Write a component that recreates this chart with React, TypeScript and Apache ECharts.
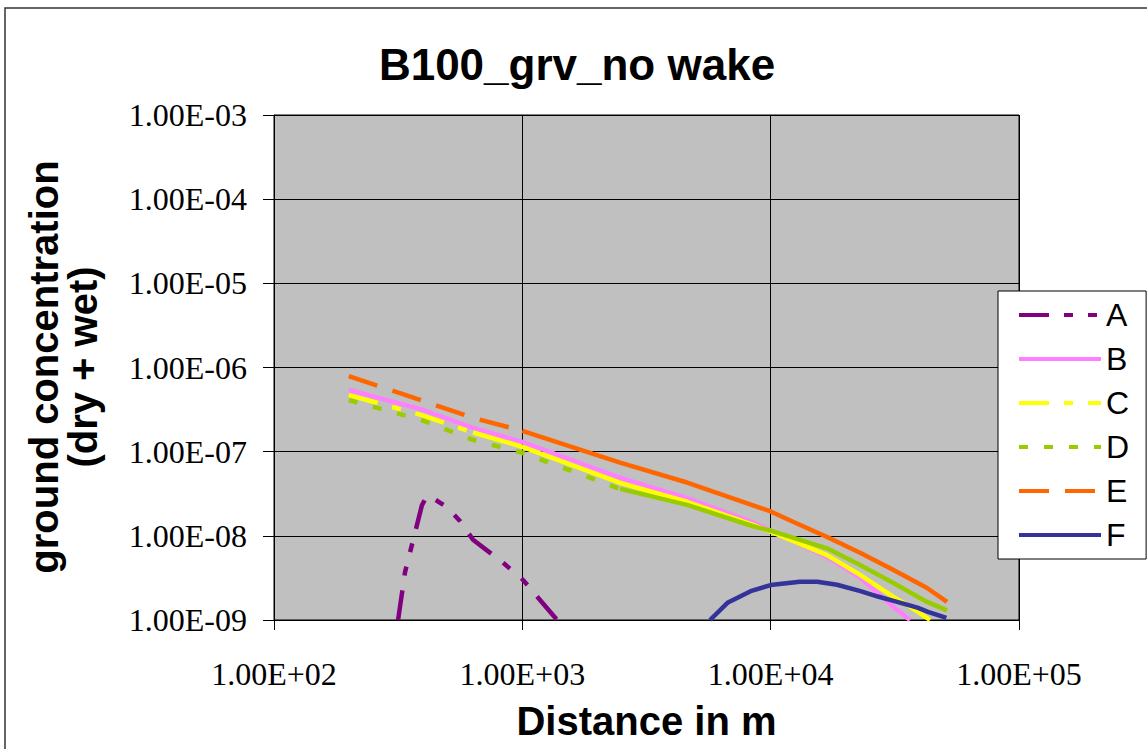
import React, { useEffect, useRef } from 'react';
import * as echarts from 'echarts';

// ---- data (distance in m, ground concentration) ----
const xA = [316, 337, 370, 394, 413, 445, 497, 561, 633, 836, 1006, 1146, 1380];
const yA = [1.0e-9, 3.7e-9, 1.1e-8, 2.3e-8, 3.0e-8, 2.7e-8, 2.2e-8, 1.5e-8, 9.0e-9, 4.8e-9, 3.0e-9, 1.9e-9, 1.0e-9];

const xB = [200, 390, 633, 1000, 2474, 4607, 8494, 10000, 16870, 22910, 31100, 36400];
const yB = [5.4e-7, 3.2e-7, 1.92e-7, 1.31e-7, 4.9e-8, 2.8e-8, 1.45e-8, 1.15e-8, 5.6e-9, 3.2e-9, 1.44e-9, 1.0e-9];

const xC = [200, 390, 633, 1000, 2474, 4607, 8494, 10000, 16870, 22910, 31100, 36400, 43800];
const yC = [4.7e-7, 2.74e-7, 1.69e-7, 1.14e-7, 4.26e-8, 2.54e-8, 1.35e-8, 1.12e-8, 5.9e-9, 3.44e-9, 1.89e-9, 1.44e-9, 1.0e-9];

const xD = [200, 390, 633, 1000, 2474, 4607, 8494, 10000, 16870, 22910, 31100, 42650, 51300];
const yD = [4.1e-7, 2.39e-7, 1.38e-7, 9.7e-8, 3.61e-8, 2.33e-8, 1.3e-8, 1.15e-8, 7.1e-9, 4.5e-9, 2.77e-9, 1.64e-9, 1.3e-9];

const xE = [200, 390, 633, 1000, 2474, 4607, 8494, 10000, 12300, 16870, 22910, 31100, 42650, 51300];
const yE = [7.9e-7, 4.1e-7, 2.52e-7, 1.77e-7, 7.4e-8, 4.3e-8, 2.3e-8, 1.95e-8, 1.47e-8, 9.7e-9, 6.3e-9, 3.95e-9, 2.4e-9, 1.64e-9];

const xF = [5700, 6700, 8300, 10000, 13100, 15400, 18500, 23000, 27000, 31000, 39000, 43000, 51000];
const yF = [1.0e-9, 1.6e-9, 2.2e-9, 2.6e-9, 2.84e-9, 2.84e-9, 2.62e-9, 2.2e-9, 1.9e-9, 1.7e-9, 1.4e-9, 1.25e-9, 1.06e-9];

const seriesNames = ['A', 'B', 'C', 'D', 'E', 'F'];
const title = 'B100_grv_no wake';
const xName = 'Distance in m';
const yName1 = 'ground concentration';
const yName2 = '(dry + wet)';

const pairs = (xs: number[], ys: number[]) => xs.map((x, i) => [x, ys[i]]);

function fmt(v: number) {
  const e = Math.round(Math.log10(v));
  const a = Math.abs(e);
  return '1.00E' + (e < 0 ? '-' : '+') + (a < 10 ? '0' + a : String(a));
}

const SANS = '"Liberation Sans", Arial, sans-serif';
const SERIF = '"Liberation Serif", "Times New Roman", serif';

function line(name: string, data: number[][], color: string, dash: any, z: number) {
  return {
    type: 'line',
    name,
    data,
    symbol: 'none',
    showSymbol: false,
    clip: true,
    z,
    lineStyle: { color, width: 4.5, type: dash, cap: 'butt', join: 'round' },
    itemStyle: { color },
    emphasis: { disabled: true },
  };
}

export default function App() {
  const ref = useRef<HTMLDivElement>(null);
  useEffect(() => {
    document.body.style.margin = '0';
    const chart = echarts.init(ref.current!, null, { renderer: 'svg' });
    const dA = pairs(xA, yA);
    const dB = pairs(xB, yB);
    const dC = pairs(xC, yC);
    const dD = pairs(xD, yD);
    const dE = pairs(xE, yE);
    const dF = pairs(xF, yF);
    const dashA = [30, 15, 9, 15, 9, 15];
    const dashC = [30, 15, 9, 15];
    const dashD = [9, 16];
    const dashE = [30, 16];
    const option: any = {
      animation: false,
      backgroundColor: '#ffffff',
      grid: {
        left: 274, top: 115, width: 745, height: 505,
        show: true, backgroundColor: '#C0C0C0', borderColor: '#000', borderWidth: 1,
      },
      xAxis: {
        type: 'log', logBase: 10, min: 100, max: 100000,
        axisLine: { show: true, lineStyle: { color: '#000', width: 1 } },
        axisTick: { show: true, length: 10, lineStyle: { color: '#000', width: 1 } },
        minorTick: { show: false },
        axisLabel: { formatter: fmt, fontSize: 32, fontFamily: SERIF, color: '#000', margin: 38 },
        splitLine: { show: true, lineStyle: { color: '#000', width: 1 } },
        name: xName, nameLocation: 'middle', nameGap: 81,
        nameTextStyle: { fontSize: 40, fontWeight: 'bold', fontFamily: SANS, color: '#000' },
      },
      yAxis: {
        type: 'log', logBase: 10, min: 1e-9, max: 1e-3,
        axisLine: { show: true, lineStyle: { color: '#000', width: 1 } },
        axisTick: { show: true, length: 11, lineStyle: { color: '#000', width: 1 } },
        minorTick: { show: false },
        axisLabel: { formatter: fmt, fontSize: 32, fontFamily: SERIF, color: '#000', margin: 27 },
        splitLine: { show: true, lineStyle: { color: '#000', width: 1 } },
      },
      legend: {
        orient: 'vertical', left: 998, top: 291,
        padding: [8, 17, 8, 19], itemGap: 12, itemWidth: 82, itemHeight: 14,
        backgroundColor: '#fff', borderColor: '#000', borderWidth: 1,
        textStyle: { fontSize: 32, fontFamily: SANS, color: '#000' },
        itemStyle: { opacity: 0 },
        lineStyle: { width: 4 },
        data: seriesNames,
        selectedMode: false,
      },
      graphic: [
        {
          type: 'rect', shape: { x: 5, y: 8, width: 1170, height: 790 }, silent: true, z: 100,
          style: { fill: 'none', stroke: '#333', lineWidth: 1.5 },
        },
        {
          type: 'text', x: 577, y: 64, silent: true,
          style: { text: title, fontSize: 44, fontWeight: 'bold', fontFamily: SANS, fill: '#000', align: 'center', verticalAlign: 'middle' },
        },
        {
          type: 'text', x: 44, y: 367, rotation: Math.PI / 2, silent: true,
          style: { text: yName1, fontSize: 40, fontWeight: 'bold', fontFamily: SANS, fill: '#000', align: 'center', verticalAlign: 'middle' },
        },
        {
          type: 'text', x: 83, y: 367, rotation: Math.PI / 2, silent: true,
          style: { text: yName2, fontSize: 40, fontWeight: 'bold', fontFamily: SANS, fill: '#000', align: 'center', verticalAlign: 'middle' },
        },
      ],
      series: [
        line('A', dA, '#800080', dashA, 2),
        line('B', dB, '#FF80FF', 'solid', 3),
        line('C', dC.slice(0, 3), '#FFFF00', dashC, 4),
        line('C', dC.slice(2), '#FFFF00', 'solid', 4),
        line('D', dD.slice(0, 5), '#99CC00', dashD, 5),
        line('D', dD.slice(4), '#99CC00', 'solid', 5),
        line('E', dE.slice(0, 4), '#FF6600', dashE, 6),
        line('E', dE.slice(3), '#FF6600', 'solid', 6),
        line('F', dF, '#333399', 'solid', 7),
      ],
    };
    chart.setOption(option);
    return () => chart.dispose();
  }, []);
  return <div ref={ref} style={{ width: 1147, height: 749 }} />;
}
